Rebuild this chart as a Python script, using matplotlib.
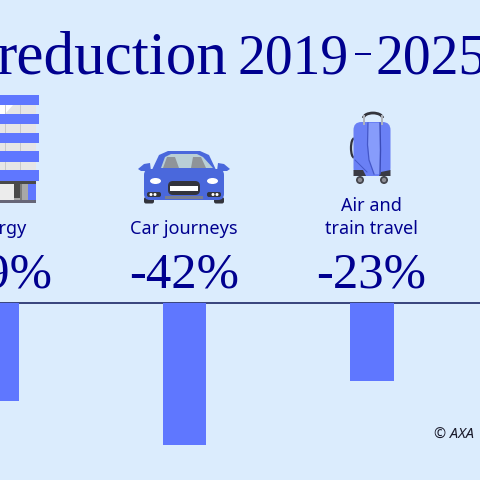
import matplotlib
matplotlib.use('Agg')
import matplotlib.pyplot as plt
from matplotlib.patches import Rectangle, Polygon, Ellipse, Circle, FancyBboxPatch, Arc

categories = ["Energy", "Car journeys", "Air and\ntrain travel"]
reductions = [-29, -42, -23]
value_labels = ["-29%", "-42%", "-23%"]
title_word = "reduction"
title_from = "2019"
title_to = "2025"
credit = "© AXA"

BG = '#dbecfd'
NAVY = '#00008f'
BAR = '#5f77ff'
ICON = '#4a68dc'

plt.rcParams['font.family'] = ['Noto Sans', 'DejaVu Sans']

fig = plt.figure(figsize=(4.8, 4.8), dpi=100, facecolor=BG)

# full figure axes in pixel coords, for text and icons
ax = fig.add_axes([0, 0, 1, 1])
ax.set_xlim(0, 480)
ax.set_ylim(480, 0)
ax.axis('off')

# bars get their own axes, baseline sits at y=303px
bar_ax = fig.add_axes([0, 0, 1, 177 / 480])
bar_ax.patch.set_alpha(0)
bar_ax.set_xlim(0.016, 0.016 + 480 / 187.5)
bar_ax.set_ylim(-52.5, 0)
bar_ax.bar(range(3), reductions, width=0.232, color=BAR)
bar_ax.axis('off')
ax.plot([0, 480], [302.7, 302.7], color='#1c2766', lw=1.2, solid_capstyle='butt')

# title
ax.text(-3, 73, title_word, family='Liberation Serif', fontsize=44, color=NAVY, ha='left', va='baseline')
ax.text(238, 73, title_from, family='Liberation Serif', fontsize=40, color=NAVY, ha='left', va='baseline')
ax.add_patch(Rectangle((355, 53), 16, 1.6, color=NAVY, lw=0))
ax.text(376, 73, title_to, family='Liberation Serif', fontsize=40, color=NAVY, ha='left', va='baseline')

# category names and values
centers = [-3, 184, 371]
for cx, name, val in zip(centers, categories, value_labels):
    ax.text(cx, 234, name, fontsize=13, color=NAVY, ha='center', va='baseline', linespacing=1.35)
    ax.text(cx, 287, val, family='Liberation Serif', fontsize=36.5, color=NAVY, ha='center', va='baseline')

ax.text(434, 439, credit, fontsize=10.5, style='italic', color='#1a1a2a', ha='left', va='baseline')


def draw_building():
    ax.add_patch(Rectangle((0, 100), 36, 85, color='#e6e6e6', lw=0))
    ax.add_patch(Polygon([(0, 105), (13, 105), (5, 114), (0, 114)], color='#ffffff', lw=0))
    for x in (4.5, 20):
        ax.plot([x, x], [105, 181], color='#c4c4c4', lw=0.6, zorder=1)
    for top in (94.7, 113.7, 132.7, 151, 170):
        ax.add_patch(Rectangle((0, top), 39, 10.5, color=BAR, lw=0, zorder=1.5))
    ax.add_patch(Rectangle((0, 181), 36, 22, color='#a8a8a8', lw=0))
    ax.add_patch(Rectangle((0, 184), 13.5, 16, color='#ececec', lw=0))
    ax.add_patch(Rectangle((14, 184), 6, 14, color='#4a4a4a', lw=0))
    ax.add_patch(Rectangle((20, 184), 2, 16, color='#7c7c7c', lw=0))
    ax.add_patch(Rectangle((28, 184), 8, 16, color=BAR, lw=0))
    ax.add_patch(Rectangle((0, 181), 36, 3, color='#4a4a4a', lw=0))
    ax.add_patch(Rectangle((0, 200), 36, 3, color='#666677', lw=0))


def draw_car():
    for x in (149, 219):
        ax.add_patch(FancyBboxPatch((x - 5, 197), 10, 6.5, boxstyle='round,pad=0,rounding_size=2', color='#33343c', lw=0))
    ax.add_patch(Polygon([(151, 172), (159, 155), (168, 151), (200, 151), (209, 155), (217, 172)], color=ICON, lw=0))
    ax.add_patch(Polygon([(161, 168), (165, 157), (171, 154), (197, 154), (203, 157), (213, 168)], color='#b9cfd6', lw=0))
    ax.add_patch(Polygon([(163, 168), (167, 157), (175, 157), (179, 168)], color='#8f9499', lw=0))
    ax.add_patch(Polygon([(191, 168), (193, 157), (201, 157), (206, 168)], color='#8f9499', lw=0))
    ax.add_patch(Polygon([(138, 169), (144, 164), (150, 163), (151, 171), (141, 171)], color=ICON, lw=0))
    ax.add_patch(Polygon([(230, 169), (224, 164), (218, 163), (217, 171), (227, 171)], color=ICON, lw=0))
    ax.add_patch(FancyBboxPatch((144, 169), 80, 31, boxstyle='round,pad=0,rounding_size=6', color=ICON, lw=0))
    ax.add_patch(Rectangle((165, 196), 38, 3, color='#7a7f90', lw=0))
    for x in (155.5, 212.5):
        ax.add_patch(Ellipse((x, 181), 11, 6, color='#ffffff', lw=0))
    ax.add_patch(FancyBboxPatch((168, 181), 32, 14, boxstyle='round,pad=0,rounding_size=5', color='#33343c', lw=0))
    ax.add_patch(Rectangle((170, 186), 28, 5, color='#ffffff', lw=0))
    for x in (147, 207):
        ax.add_patch(FancyBboxPatch((x, 192), 14, 5, boxstyle='round,pad=0,rounding_size=2', color='#33343c', lw=0))
    for x in (151, 155, 213, 217):
        ax.add_patch(Circle((x, 194.5), 1.5, color='#ffffff', lw=0))


def draw_suitcase():
    # handle
    ax.plot([364, 364], [116, 124], color='#b0b4bc', lw=1.4)
    ax.plot([382, 382], [116, 124], color='#b0b4bc', lw=1.4)
    ax.add_patch(Arc((373, 118), 19, 10, theta1=180, theta2=360, color='#33343c', lw=2))
    # side grip
    ax.add_patch(Arc((354, 148), 6, 19, theta1=90, theta2=270, color='#33343c', lw=1.6))
    for x in (360, 384):
        ax.add_patch(Circle((x, 180), 4, color='#44454c', lw=0))
        ax.add_patch(Circle((x, 180), 2.2, color='#8d8d94', lw=0))
    ax.add_patch(FancyBboxPatch((353.5, 122), 37, 54, boxstyle='round,pad=0,rounding_size=8', color='#6a80f5', lw=0))
    ax.add_patch(Polygon([(368, 123), (380, 123), (380, 174), (374, 174), (369, 160), (368, 145)], color='#879cfb', lw=0))
    ax.add_patch(Polygon([(353.5, 170), (363, 170), (366, 176), (353.5, 176)], color='#3a3a44', lw=0))
    ax.add_patch(Polygon([(390.5, 170), (381, 172), (379, 176), (390.5, 176)], color='#3a3a44', lw=0))
    ax.plot([368, 367.5, 369, 374], [123, 145, 160, 174], color='#4457c8', lw=0.9)
    ax.plot([380, 380.5, 380], [123, 150, 174], color='#3a4bb8', lw=1)
    ax.plot([355, 362, 367], [160, 167, 172], color='#4457c8', lw=0.7)


draw_building()
draw_car()
draw_suitcase()

fig.savefig('out.png', dpi=100, facecolor=BG)
plt.close()
